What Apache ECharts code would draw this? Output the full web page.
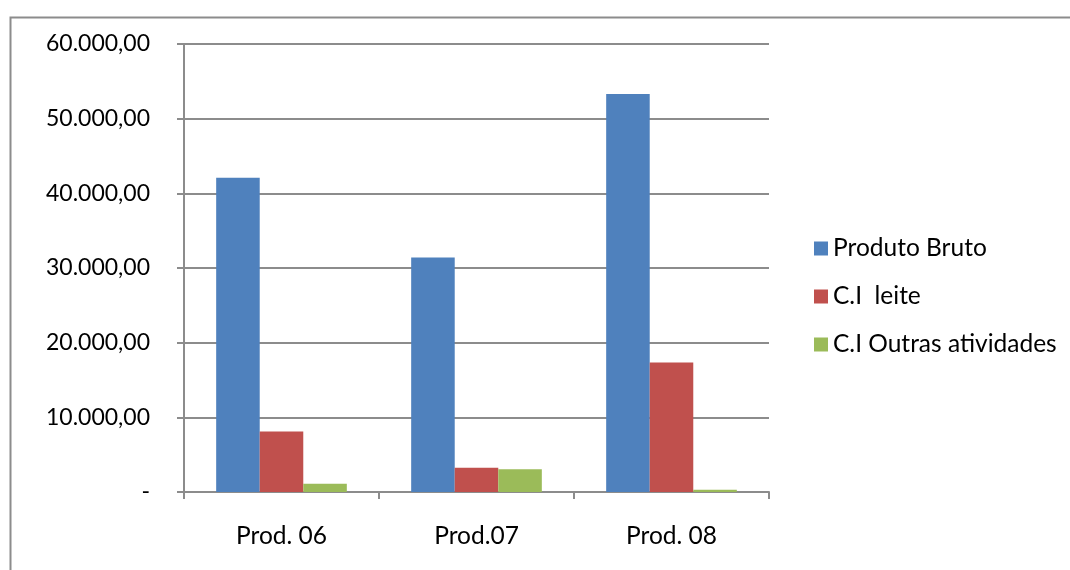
<!DOCTYPE html>
<html>
<head>
<meta charset="utf-8">
<script src="https://cdn.jsdelivr.net/npm/echarts@6/dist/echarts.min.js"></script>
<style>
  html, body { margin: 0; padding: 0; background: #fff; }
  #chart { width: 1070px; height: 570px; }
</style>
</head>
<body>
<div id="chart"></div>
<script>
// Categories and series values
const categories = ['Prod. 06', 'Prod.07', 'Prod. 08'];
const produtoBruto = [42100, 31400, 53300];
const ciLeite = [8100, 3250, 17350];
const ciOutras = [1100, 3050, 300];
const seriesNames = ['Produto Bruto', 'C.I  leite', 'C.I Outras atividades'];
const seriesColors = ['#4F81BD', '#C0504D', '#9BBB59'];

const fontFamily = 'Lato, "Noto Sans", sans-serif';
const lineColor = '#8c8c8c';

// Brazilian number format with two decimals; zero shown as a dash
function fmt(v) {
  if (v === 0) return '-';
  return v.toLocaleString('pt-BR', { minimumFractionDigits: 2, maximumFractionDigits: 2 });
}

const chart = echarts.init(document.getElementById('chart'), null, { renderer: 'canvas' });

const values = [produtoBruto, ciLeite, ciOutras];

chart.setOption({
  animation: false,
  backgroundColor: '#ffffff',
  graphic: [{
    type: 'rect',
    left: 8, top: 15,
    shape: { width: 1100, height: 600 },
    style: { fill: 'none', stroke: '#8c8c8c', lineWidth: 2 },
    silent: true
  }],
  grid: { left: 184, top: 44, width: 585, height: 448 },
  legend: {
    orient: 'vertical',
    left: 809,
    top: 231,
    itemWidth: 14,
    itemHeight: 14,
    itemGap: 23,
    icon: 'rect',
    textStyle: { fontFamily: fontFamily, fontSize: 24.5, color: '#000' },
    data: seriesNames
  },
  xAxis: {
    type: 'category',
    data: categories,
    axisLine: { lineStyle: { color: lineColor, width: 2 } },
    axisTick: { show: true, length: 7, lineStyle: { color: lineColor, width: 2 } },
    axisLabel: { fontFamily: fontFamily, fontSize: 24.5, color: '#000', margin: 32 }
  },
  yAxis: {
    type: 'value',
    min: 0, max: 60000, interval: 10000,
    axisLine: { show: true, lineStyle: { color: lineColor, width: 2 } },
    axisTick: { show: true, length: 7, lineStyle: { color: lineColor, width: 2 } },
    splitLine: { lineStyle: { color: lineColor, width: 2 } },
    axisLabel: {
      fontFamily: fontFamily, fontSize: 23, color: '#000', margin: 34,
      formatter: fmt
    }
  },
  series: seriesNames.map((name, i) => ({
    name: name,
    type: 'bar',
    data: values[i],
    barGap: '0%',
    barCategoryGap: '33%',
    itemStyle: { color: seriesColors[i] }
  }))
});
</script>
</body>
</html>
